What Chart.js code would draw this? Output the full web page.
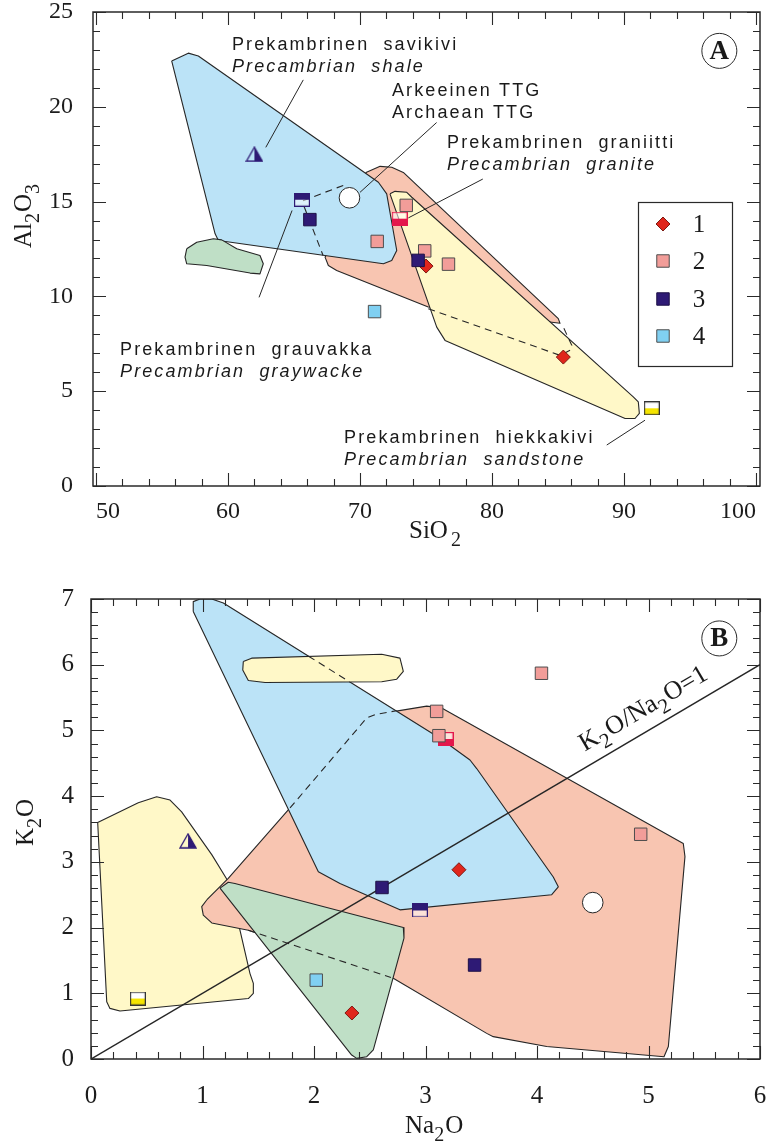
<!DOCTYPE html>
<html>
<head>
<meta charset="utf-8">
<script src="https://cdn.jsdelivr.net/npm/chart.js@4.4.1/dist/chart.umd.min.js"></script>
<style>
  html, body { margin: 0; padding: 0; background: #fff; }
  #wrap { position: relative; width: 779px; height: 1143px; overflow: hidden; }
  canvas { position: absolute; left: 0; }
  #chartA { top: 0; }
  #chartB { top: 560px; }
</style>
</head>
<body>
<div id="wrap">
  <canvas id="chartA" width="779" height="560"></canvas>
  <canvas id="chartB" width="779" height="583"></canvas>
</div>
<script>
// ---------- A: SiO2 vs Al2O3 ----------
const aTicksX = [50, 60, 70, 80, 90, 100];
const aTicksY = [0, 5, 10, 15, 20, 25];
const groupLabels = ['1', '2', '3', '4'];
const aSiO2_1 = [75.0, 85.4];
const aAl2O3_1 = [11.6, 6.8];
const aSiO2_2 = [73.5, 71.3, 74.9, 76.7];
const aAl2O3_2 = [14.8, 12.9, 12.4, 11.7];
const aSiO2_3 = [74.4, 66.2];
const aAl2O3_3 = [11.9, 14.05];
const aSiO2_4 = [71.1];
const aAl2O3_4 = [9.2];
// reference rocks: shale, greywacke, Archaean TTG, granite, sandstone
const aRefSiO2 = [62.0, 65.6, 69.2, 73.0, 92.1];
const aRefAl2O3 = [17.5, 15.1, 15.2, 14.1, 4.1];

// fields
const aFieldShale = [[55.73, 22.42], [56.99, 22.83], [57.75, 22.68], [71.39, 16.02], [72.02, 15.41], [72.78, 12.42], [72.40, 11.89], [71.77, 11.72], [59.27, 12.95], [59.02, 13.30]];
const aFieldGranite = [[70.45, 16.53], [71.52, 16.86], [72.40, 16.81], [73.28, 16.54], [85.02, 8.83], [85.15, 8.58], [75.17, 9.44], [68.23, 11.37], [67.60, 11.63], [67.35, 12.07]];
const aFieldSandstone = [[72.27, 15.41], [72.65, 15.54], [73.54, 15.49], [73.92, 15.23], [90.70, 4.70], [91.08, 4.44], [91.16, 3.83], [90.83, 3.56], [90.08, 3.56], [76.44, 7.68], [75.81, 8.38]];
const aFieldGreen = [[56.87, 12.51], [57.63, 12.86], [58.89, 13.04], [59.52, 12.98], [60.66, 12.51], [62.42, 12.16], [62.67, 11.72], [62.42, 11.19], [61.67, 11.23], [58.39, 11.63], [56.87, 11.72], [56.74, 12.07]];
const aDash1 = [[65.68, 15.05], [68.86, 15.89]];
const aDash2 = [[65.76, 14.74], [67.20, 12.16]];
const aDash3 = [[75.17, 9.35], [85.15, 6.89], [85.91, 7.16], [86.04, 7.42], [85.28, 8.56]];
const aLeaders = [
  [[62.86, 17.86], [65.70, 21.42]],
  [[70.00, 15.49], [75.80, 19.17]],
  [[73.66, 14.14], [79.30, 16.19]],
  [[64.85, 14.53], [62.35, 9.95]],
  [[88.69, 2.16], [91.59, 3.47]]
];

// ---------- B: Na2O vs K2O ----------
const bTicksX = [0, 1, 2, 3, 4, 5, 6];
const bTicksY = [0, 1, 2, 3, 4, 5, 6, 7];
const bNa2O_1 = [3.30, 2.34];
const bK2O_1 = [2.88, 0.70];
const bNa2O_2 = [3.10, 3.12, 4.04, 4.93];
const bK2O_2 = [5.29, 4.92, 5.87, 3.42];
const bNa2O_3 = [2.61, 3.44];
const bK2O_3 = [2.61, 1.43];
const bNa2O_4 = [2.02];
const bK2O_4 = [1.20];
const bRefNa2O = [0.87, 2.95, 4.50, 3.18, 0.42];
const bRefK2O = [3.32, 2.26, 2.38, 4.87, 0.92];

const bFieldSandstone = [[0.060, 3.60], [0.424, 3.90], [0.589, 3.99], [0.709, 3.94], [0.813, 3.76], [1.083, 3.11], [1.217, 2.74], [1.321, 2.07], [1.426, 1.30], [1.456, 1.15], [1.456, 1.00], [1.411, 0.92], [0.260, 0.73], [0.170, 0.77], [0.141, 0.87]];
const bFieldGranite = [[1.038, 2.42], [1.231, 2.75], [1.785, 3.82], [2.473, 5.19], [2.547, 5.24], [3.011, 5.37], [3.145, 5.34], [5.312, 3.28], [5.327, 3.08], [5.178, 0.19], [5.139, 0.035], [4.087, 0.19], [3.608, 0.34], [3.549, 0.39], [2.711, 1.23], [1.411, 1.96], [1.083, 2.07], [1.007, 2.19], [0.993, 2.32]];
const bFieldShale = [[0.917, 6.81], [0.917, 6.96], [0.978, 7.0], [1.083, 7.0], [1.187, 6.94], [3.130, 4.88], [3.399, 4.55], [3.459, 4.42], [4.146, 2.77], [4.191, 2.62], [4.132, 2.50], [2.771, 2.27], [2.233, 2.67], [2.039, 2.85]];
const bFieldSandstone2 = [[1.366, 6.05], [1.441, 6.10], [2.607, 6.16], [2.771, 6.10], [2.801, 5.90], [2.742, 5.78], [2.607, 5.74], [1.561, 5.73], [1.411, 5.76], [1.361, 5.92]];
const bFieldGreen = [[1.157, 2.60], [1.231, 2.69], [1.291, 2.67], [2.801, 2.00], [2.807, 1.84], [2.532, 0.14], [2.473, 0.035], [2.383, 0.01], [2.338, 0.06]];
const bDash1 = [[1.785, 3.82], [2.473, 5.19], [2.547, 5.24], [2.739, 5.30]];
const bDash2 = [[1.411, 1.96], [2.690, 1.24]];
const bDash3 = [[1.951, 6.13], [2.319, 5.74]];
const bRatioLine = [[0, 0], [6, 6]];

// ---------- styling ----------
const SERIF = '"Liberation Serif", "Times New Roman", serif';
const SANS = '"Liberation Sans", Arial, sans-serif';
const EDGE = '#262626';
const NAVY = '#2e1a75';

const STYLE_1 = { pointStyle: 'rectRot', pointRadius: 7, pointBackgroundColor: '#e0261c', pointBorderColor: '#7c1a12', pointBorderWidth: 1 };
const STYLE_2 = { pointStyle: 'rect', pointRadius: 8.8, pointBackgroundColor: '#f29d99', pointBorderColor: '#4d4d4d', pointBorderWidth: 1 };
const STYLE_3 = { pointStyle: 'rect', pointRadius: 8.8, pointBackgroundColor: NAVY, pointBorderColor: '#1d1046', pointBorderWidth: 1 };
const STYLE_4 = { pointStyle: 'rect', pointRadius: 8.8, pointBackgroundColor: '#80d0f2', pointBorderColor: '#4d4d4d', pointBorderWidth: 1 };

function halfSquare(topColor, bottomColor, edge) {
  const c = document.createElement('canvas');
  c.width = 16; c.height = 14;
  const g = c.getContext('2d');
  g.fillStyle = topColor; g.fillRect(0, 0, 16, 7);
  g.fillStyle = bottomColor; g.fillRect(0, 7, 16, 7);
  g.strokeStyle = edge; g.lineWidth = 1.2; g.strokeRect(0.6, 0.6, 14.8, 12.8);
  return c;
}
function halfTriangle(color) {
  const c = document.createElement('canvas');
  c.width = 18; c.height = 16;
  const g = c.getContext('2d');
  g.fillStyle = color;
  g.beginPath(); g.moveTo(9, 1); g.lineTo(17, 15); g.lineTo(9, 15); g.closePath(); g.fill();
  g.strokeStyle = color; g.lineWidth = 1.3;
  g.beginPath(); g.moveTo(9, 1); g.lineTo(17, 15); g.lineTo(1, 15); g.closePath(); g.stroke();
  return c;
}
const REF_STYLE = {
  pointStyle: [
    halfTriangle(NAVY),
    halfSquare(NAVY, 'rgba(255,255,255,0.5)', NAVY),
    'circle',
    halfSquare('rgba(255,255,255,0.55)', '#e3184c', '#e3184c'),
    halfSquare('#ffffff', '#f5e400', '#333333')
  ],
  pointRadius: 10.3, pointBackgroundColor: '#ffffff', pointBorderColor: EDGE, pointBorderWidth: 1
};

function pts(xs, ys) { return xs.map((x, i) => ({ x, y: ys[i] })); }
function line(pairs) { return pairs.map(([x, y]) => ({ x, y })); }
function fieldSet(pairs, color, order) {
  return { data: line(pairs.concat([pairs[0]])), showLine: true, fill: 'shape', backgroundColor: color,
    borderColor: EDGE, borderWidth: 1.1, borderJoinStyle: 'round', pointRadius: 0, order };
}
function pathSet(pairs, dash, width, order) {
  return { data: line(pairs), showLine: true, fill: false, borderColor: EDGE, borderWidth: width,
    borderDash: dash, pointRadius: 0, order };
}
function markSet(label, xs, ys, style, order) {
  return Object.assign({ label, data: pts(xs, ys), showLine: false, order }, style);
}

function axis(min, max, ticks, size, pad, fontSize, align) {
  return {
    type: 'linear', min, max,
    afterBuildTicks: s => { s.ticks = ticks.map(v => ({ value: v })); },
    afterFit: s => {
      if (s.isHorizontal()) s.height = size; else s.width = size;
      s.paddingTop = s.paddingBottom = s.paddingLeft = s.paddingRight = 0;
    },
    grid: { display: false, drawTicks: false },
    border: { display: false },
    ticks: { padding: pad, align, autoSkip: false, maxRotation: 0, color: '#1c1c1c', font: { family: SERIF, size: fontSize } }
  };
}

// text with chemical subscripts: parts = [[text, isSub, gapBefore]]
function drawChem(ctx, parts, x, y, size) {
  let cx = x;
  for (const [t, sub, gap] of parts) {
    cx += gap || 0;
    ctx.font = (sub ? Math.round(size * 0.8) : size) + 'px ' + SERIF;
    ctx.fillText(t, cx, y + (sub ? size * 0.3 : 0));
    cx += ctx.measureText(t).width + (sub ? 1 : 0);
  }
  return cx - x;
}

function inwardTicks(ctx, scale, area, minor, major, horizontal) {
  const first = Math.ceil(scale.min / minor - 1e-6), last = Math.floor(scale.max / minor + 1e-6);
  const every = Math.round(major / minor);
  ctx.beginPath();
  for (let i = first; i <= last; i++) {
    const p = Math.round(scale.getPixelForValue(i * minor)) + 0.5;
    const len = i % every === 0 ? 13 : 7;
    if (horizontal) {
      ctx.moveTo(p, area.bottom); ctx.lineTo(p, area.bottom - len);
      ctx.moveTo(p, area.top); ctx.lineTo(p, area.top + len);
    } else {
      ctx.moveTo(area.left, p); ctx.lineTo(area.left + len, p);
      ctx.moveTo(area.right, p); ctx.lineTo(area.right - len, p);
    }
  }
  ctx.stroke();
}

function makeSketch(cfg) {
  return {
    id: 'sketch',
    afterDatasetsDraw(chart) {
      const { ctx, chartArea: a, scales: { x, y } } = chart;
      ctx.save();
      ctx.strokeStyle = '#2a2a2a';
      ctx.lineWidth = 1.1;
      inwardTicks(ctx, x, a, cfg.xMinor, cfg.xMajor, true);
      inwardTicks(ctx, y, a, cfg.yMinor, cfg.yMajor, false);
      ctx.lineWidth = 1.5;
      ctx.strokeRect(a.left, a.top, a.right - a.left, a.bottom - a.top);

      ctx.fillStyle = '#1a1a1a';
      ctx.textAlign = 'left';
      ctx.textBaseline = 'alphabetic';
      for (const t of cfg.titles) {
        ctx.save();
        ctx.translate(t.x, t.y);
        if (t.rotate) ctx.rotate(-Math.PI / 2);
        drawChem(ctx, t.parts, 0, 0, t.size);
        ctx.restore();
      }

      // field names
      ctx.textBaseline = 'middle';
      ctx.letterSpacing = '2.1px';
      for (const n of cfg.notes || []) {
        const px = x.getPixelForValue(n.at[0]), py = y.getPixelForValue(n.at[1]);
        ctx.font = '18px ' + SANS;
        ctx.fillText(n.lines[0], px, py);
        ctx.font = (n.italic ? 'italic ' : '') + '18px ' + SANS;
        ctx.fillText(n.lines[1], px, py + 22);
      }
      ctx.letterSpacing = '0px';

      // circled panel letter
      const b = cfg.badge;
      const bx = x.getPixelForValue(b.at[0]), by = y.getPixelForValue(b.at[1]);
      ctx.lineWidth = 1;
      ctx.beginPath(); ctx.arc(bx, by, 17.5, 0, Math.PI * 2); ctx.stroke();
      ctx.font = 'bold 27px ' + SERIF;
      ctx.textAlign = 'center';
      ctx.fillText(b.text, bx, by + 1);

      // ratio line label
      if (cfg.ratio) {
        const r = cfg.ratio;
        const px = x.getPixelForValue(r.at), py = y.getPixelForValue(r.at);
        const ang = Math.atan2(y.getPixelForValue(6) - y.getPixelForValue(0), x.getPixelForValue(6) - x.getPixelForValue(0));
        ctx.save();
        ctx.translate(px, py);
        ctx.rotate(ang);
        ctx.textAlign = 'left';
        ctx.textBaseline = 'alphabetic';
        ctx.globalAlpha = 0;
        const w = drawChem(ctx, r.parts, 0, 0, r.size);
        ctx.globalAlpha = 1;
        drawChem(ctx, r.parts, -w / 2, -r.lift, r.size);
        ctx.restore();
      }

      // legend
      if (cfg.legend) {
        const L = cfg.legend;
        ctx.lineWidth = 1.2;
        ctx.strokeRect(L.box[0] + 0.5, L.box[1] + 0.5, L.box[2], L.box[3]);
        const sets = chart.data.datasets.filter(d => groupLabels.includes(d.label));
        sets.forEach((d, i) => {
          const ry = L.rows[i];
          ctx.fillStyle = d.pointBackgroundColor;
          ctx.strokeStyle = d.pointBorderColor;
          ctx.lineWidth = d.pointBorderWidth;
          Chart.helpers.drawPoint(ctx, { pointStyle: d.pointStyle, radius: d.pointRadius, borderWidth: d.pointBorderWidth, rotation: 0 }, L.markerX, ry);
          ctx.fillStyle = '#1a1a1a';
          ctx.font = '25px ' + SERIF;
          ctx.textAlign = 'center';
          ctx.textBaseline = 'middle';
          ctx.fillText(d.label, L.textX, ry + 1);
        });
      }
      ctx.restore();
    }
  };
}

function makeChart(id, datasets, scales, padding, plugin) {
  return new Chart(document.getElementById(id), {
    type: 'scatter',
    data: { datasets },
    options: {
      responsive: false, animation: false, events: [],
      layout: { padding, autoPadding: false },
      plugins: { legend: { display: false }, tooltip: { enabled: false } },
      scales
    },
    plugins: [plugin]
  });
}

// ---------- chart A ----------
const aDatasets = [
  markSet('3', aSiO2_3, aAl2O3_3, STYLE_3, 1),
  markSet('2', aSiO2_2, aAl2O3_2, STYLE_2, 2),
  markSet('4', aSiO2_4, aAl2O3_4, STYLE_4, 2),
  markSet('ref', aRefSiO2, aRefAl2O3, REF_STYLE, 3),
  markSet('1', aSiO2_1, aAl2O3_1, STYLE_1, 4),
  pathSet(aDash1, [7, 5], 1.1, 8),
  pathSet(aDash2, [7, 5], 1.1, 8),
  pathSet(aDash3, [7, 5], 1.1, 8),
  ...aLeaders.map(p => pathSet(p, [], 1, 7)),
  fieldSet(aFieldGreen, '#bfdfc6', 10),
  fieldSet(aFieldShale, '#bbe3f7', 11),
  fieldSet(aFieldSandstone, '#fff8c8', 12),
  fieldSet(aFieldGranite, '#f8c5b1', 13)
];
// legend order 1..4
aDatasets.sort((p, q) => (groupLabels.indexOf(p.label) + 1 || 99) - (groupLabels.indexOf(q.label) + 1 || 99));

makeChart('chartA', aDatasets, {
  x: axis(49.77, 100.3, aTicksX, 74, 11, 24, 'inner'),
  y: axis(0, 25, aTicksY, 93, 20, 24, 'center')
}, { left: 0, right: 19, top: 12, bottom: 0 }, makeSketch({
  xMinor: 2, xMajor: 10, yMinor: 1, yMajor: 5,
  titles: [
    { parts: [['SiO', 0], ['2', 1, 3]], x: 409, y: 538, size: 25 },
    { parts: [['Al', 0], ['2', 1], ['O', 0], ['3', 1]], x: 31, y: 248, size: 25, rotate: true }
  ],
  notes: [
    { at: [60.3, 23.26], lines: ['Prekambrinen  savikivi', 'Precambrian  shale'], italic: true },
    { at: [72.42, 20.84], lines: ['Arkeeinen TTG', 'Archaean TTG'], italic: false },
    { at: [76.59, 18.11], lines: ['Prekambrinen  graniitti', 'Precambrian  granite'], italic: true },
    { at: [51.82, 7.16], lines: ['Prekambrinen  grauvakka', 'Precambrian  graywacke'], italic: true },
    { at: [68.79, 2.53], lines: ['Prekambrinen  hiekkakivi', 'Precambrian  sandstone'], italic: true }
  ],
  badge: { at: [97.22, 22.95], text: 'A' },
  legend: { box: [638, 202, 94, 164], markerX: 663, textX: 699, rows: [224, 261, 299, 336] }
}));

// ---------- chart B ----------
makeChart('chartB', [
  markSet('2', bNa2O_2, bK2O_2, STYLE_2, 1),
  markSet('3', bNa2O_3, bK2O_3, STYLE_3, 1),
  markSet('4', bNa2O_4, bK2O_4, STYLE_4, 1),
  markSet('1', bNa2O_1, bK2O_1, STYLE_1, 2),
  markSet('ref', bRefNa2O, bRefK2O, REF_STYLE, 3),
  pathSet(bRatioLine, [], 1.5, 6),
  pathSet(bDash1, [7, 5], 1.1, 8),
  pathSet(bDash2, [7, 5], 1.1, 8),
  pathSet(bDash3, [7, 5], 1.1, 8),
  fieldSet(bFieldGreen, '#bfdfc6', 10),
  fieldSet(bFieldSandstone2, '#fff8c8', 11),
  fieldSet(bFieldShale, '#bbe3f7', 12),
  fieldSet(bFieldGranite, '#f8c5b1', 13),
  fieldSet(bFieldSandstone, '#fff8c8', 14)
], {
  x: axis(0, 6, bTicksX, 84, 22, 25, 'center'),
  y: axis(0, 7, bTicksY, 91, 17, 25, 'center')
}, { left: 0, right: 19, top: 39, bottom: 0 }, makeSketch({
  xMinor: 0.2, xMajor: 1, yMinor: 0.2, yMajor: 1,
  titles: [
    { parts: [['Na', 0], ['2', 1], ['O', 0]], x: 405, y: 573, size: 25 },
    { parts: [['K', 0], ['2', 1], ['O', 0]], x: 33, y: 286, size: 25, rotate: true }
  ],
  badge: { at: [5.635, 6.40], text: 'B' },
  ratio: { at: 5.05, lift: 14, size: 26, parts: [['K', 0], ['2', 1], ['O/Na', 0], ['2', 1], ['O=1', 0]] }
}));
</script>
</body>
</html>
